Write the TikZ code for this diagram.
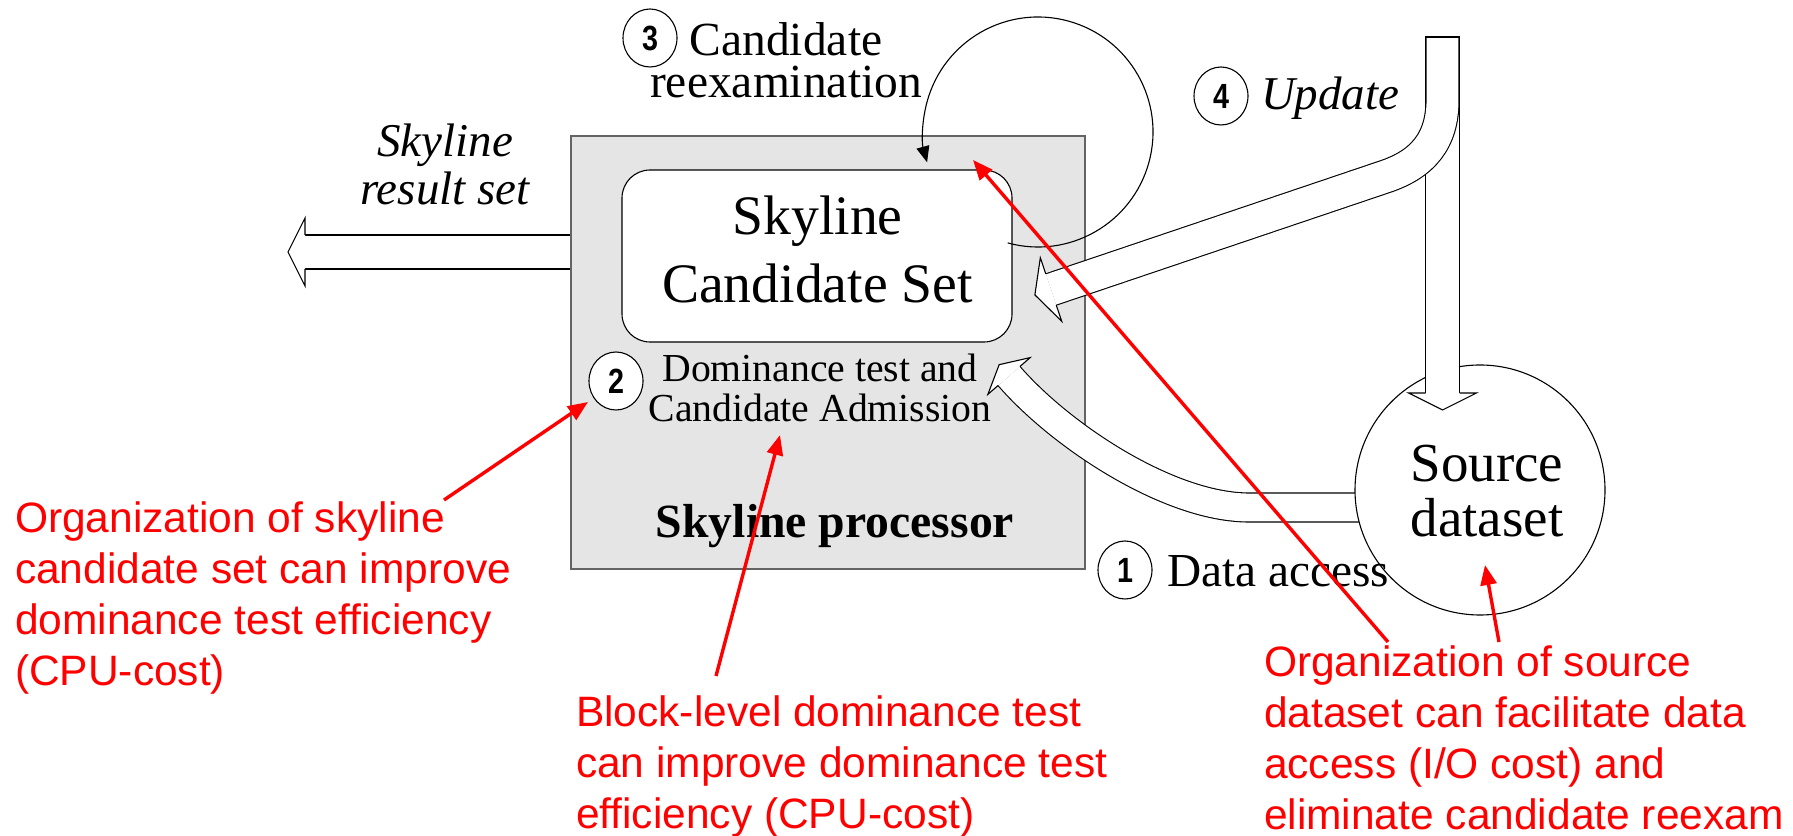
\documentclass[tikz,border=0pt]{standalone}
\usepackage{fontspec}
\setmainfont{Liberation Serif}
\newfontfamily\notefont{Liberation Sans}
\newfontfamily\stepfont[FakeStretch=0.82]{Liberation Sans}
\usetikzlibrary{arrows.meta,shapes.geometric}

\definecolor{boxgray}{RGB}{229,229,229}
\definecolor{boxedge}{RGB}{100,100,100}
\definecolor{notered}{RGB}{255,0,0}

% stacked lines whose baseline is the first line
\newcommand{\linesc}[1]{\vtop{\halign{\hfil##\hfil\cr#1\crcr}}}
\newcommand{\linesl}[1]{\vtop{\halign{##\hfil\cr#1\crcr}}}

% hollow arrow head: position, direction, shaft half width, head half width, head length
\newcommand{\hollowhead}[5]{%
  \begin{scope}[shift={#1},rotate=#2]
    \filldraw[fill=white,draw=black,line width=1.1pt,line join=miter]
      (0,-#3) -- (0,-#4) -- (#5,0) -- (0,#4) -- (0,#3);
  \end{scope}}

\begin{document}
\begin{tikzpicture}[x=1pt,y=1pt,
  txt/.style={inner sep=0pt,outer sep=0pt},
  band/.style={draw=black,line width=1.1pt,double=white,double distance=#1},
  numc/.style={ellipse,draw=black,fill=white,line width=1.1pt,
    minimum width=54pt,minimum height=58pt,inner sep=0pt,
    font=\stepfont\bfseries\fontsize{35}{35}\selectfont},
  serif/.style={txt,font=\fontsize{#1}{#1}\selectfont},
  redarrow/.style={draw=notered,line width=3.4pt,-{Triangle[length=20pt,width=16pt]}},
  note/.style={txt,anchor=base west,text=notered,font=\notefont\fontsize{42.5}{51}\selectfont},
]
\useasboundingbox (0,0) rectangle (1793,835);

% skyline processor and its candidate set
\node[draw=boxedge,fill=boxgray,line width=1.5pt,minimum width=514pt,minimum height=433pt,inner sep=0pt] (proc) at (828,482.5) {};
\node[draw=black,fill=white,line width=1.1pt,rounded corners=28pt,minimum width=390pt,minimum height=172pt,inner sep=0pt] (cand) at (817,579) {};

% result set leaving the processor
\coordinate (resEnd) at (305,583);
\draw[band=32.9pt,shorten <=0.75pt] (proc.west |- resEnd) -- (resEnd);
\hollowhead{(resEnd)}{180}{17}{34}{17}

% candidate reexamination loop
\coordinate (loopc) at (1038,703);
\draw[draw=black,line width=1.1pt,-{Triangle[length=16pt,width=13pt]}]
  ([shift={(254.7:115)}]loopc) arc[start angle=254.7,end angle=555.3,radius=115];

% data access from the source dataset
\coordinate (daStart) at (1420,327.5);
\coordinate (daBend) at (1249,327.5);
\coordinate (daHead) at (1009,459);
\draw[band=27.9pt] (daStart) -- (daBend) .. controls (1169,327.5) and (1061,399) .. (daHead);
\hollowhead{(daHead)}{131}{14.5}{28}{15}

% source dataset
\node[circle,draw=black,fill=white,line width=1.1pt,minimum size=250pt,inner sep=0pt] (src) at (1480,345) {};

% update arrows
\coordinate (updTop) at (1442.5,798);
\coordinate (updHead) at (1442.5,442);
\coordinate (brTurn) at (1442.5,735);
\coordinate (brStraight) at (1385.5,658.5);
\coordinate (brHead) at (1051,545.5);
\draw[band=32.9pt] (updTop) -- (updHead);
\hollowhead{(updHead)}{-90}{17}{34}{17}
\draw[band=31.9pt] (updTop) -- (brTurn) .. controls (1442.5,695) and (1423.4,671.3) .. (brStraight) -- (brHead);
\hollowhead{(brHead)}{198.6}{16.5}{33.5}{17}
\draw[draw=black,line width=1.1pt] ([xshift=-17.55pt]updTop) -- ([xshift=17.55pt]updTop);

% labels
\node[serif=55.7,anchor=base] (candtxt) at (817.5,600) {\fontsize{55.7}{68}\selectfont\linesc{Skyline\cr Candidate Set}};
\node[serif=39.7,anchor=base] (domtxt) at (820,453) {\fontsize{39.7}{40}\selectfont\linesc{Dominance test and\cr Candidate Admission}};
\node[txt,anchor=base,font=\bfseries\fontsize{47.7}{48}\selectfont] (proctxt) at (835,297) {Skyline processor};
\node[serif=47.5,anchor=base] (reextxt) at (786,779) {\fontsize{47.5}{42}\selectfont\linesc{Candidate\cr reexamination}};
\node[txt,anchor=base,font=\itshape\fontsize{47}{48}\selectfont] (restxt) at (445,678) {\linesc{Skyline\cr result set}};
\node[txt,anchor=base west,font=\itshape\fontsize{47}{48}\selectfont] (updtxt) at (1261,725) {Update};
\node[txt,anchor=base west,font=\fontsize{47.3}{48}\selectfont] (datxt) at (1167,248) {Data access};
\node[serif=55,anchor=base] (srctxt) at (1487,353) {\fontsize{55}{55}\selectfont\linesc{Source\cr dataset}};

% step numbers
\node[numc] (n1) at (1125,265) {1};
\node[numc] (n2) at (616,454) {2};
\node[numc] (n3) at (650,797) {3};
\node[numc] (n4) at (1221,739) {4};

% remarks
\node[note] (noteA) at (15,302) {\linesl{Organization of skyline\cr candidate set can improve\cr dominance test efficiency\cr (CPU-cost)}};
\node[note] (noteB) at (576,108) {\linesl{Block-level dominance test\cr can improve dominance test\cr efficiency (CPU-cost)}};
\node[note] (noteC) at (1264,158) {\linesl{Organization of source\cr dataset can facilitate data\cr access (I/O cost) and\cr eliminate candidate reexam}};

\coordinate (tailA) at (444,335);
\coordinate (tipA) at (588,433);
\coordinate (tailB) at (716,159);
\coordinate (tipB) at (780,400);
\coordinate (tailC) at (1388,193);
\coordinate (tipC) at (973,675);
\coordinate (tailD) at (1499,193);
\coordinate (tipD) at (1485,270);
\draw[redarrow] (tailA) -- (tipA);
\draw[redarrow] (tailB) -- (tipB);
\draw[redarrow] (tailC) -- (tipC);
\draw[redarrow] (tailD) -- (tipD);
\end{tikzpicture}
\end{document}
